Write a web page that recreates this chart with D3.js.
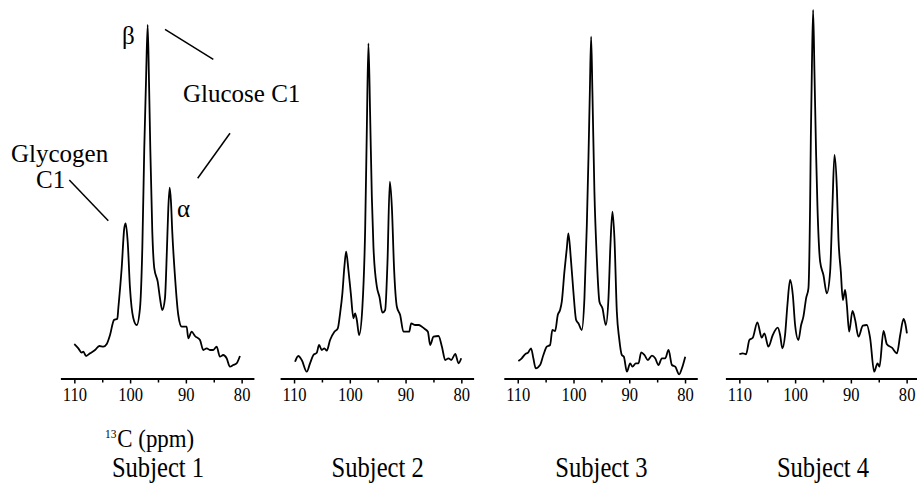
<!DOCTYPE html>
<meta charset="utf-8">
<script src="https://d3js.org/d3.v7.min.js"></script>
<style>
  svg text { font-family: "Liberation Serif", Tinos, "Times New Roman", Times, "Nimbus Roman", "Nimbus Roman No9 L", "Noto Serif", "DejaVu Serif", FreeSerif, serif; }
</style>
<body style="margin:0;background:#fff">
<div id="chart"></div>
<script>
// spectra as [ppm, intensity (a.u.)]
const subjects = ["Subject 1", "Subject 2", "Subject 3", "Subject 4"];
const majorTicks = [110, 100, 90, 80];
const minorTicks = [105, 95, 85];

const spectrum1 = [[110.0,36],[109.28,31.7],[108.67,27.3],[108.39,28.3],[107.9,24],[107.19,26.7],[106.29,30],[105.52,34],[104.8,33.3],[104.19,36],[103.6,45],[102.89,60],[102.29,61.3],[102.11,72],[101.51,112],[101.04,152],[100.79,156.7],[100.43,138],[100.02,92],[99.43,62],[98.82,55],[98.23,71.7],[97.81,131.7],[97.46,231.7],[97.15,298.3],[96.85,355],[96.61,298.3],[96.38,231.7],[96.02,148.3],[95.66,111.7],[95.05,98.3],[94.64,81.7],[94.23,70],[93.75,81.7],[93.39,131.7],[93.15,171.7],[92.9,192.3],[92.67,178.3],[92.44,148.3],[91.97,105],[91.36,65],[90.75,53.3],[89.86,53.3],[89.57,41.7],[88.96,48.3],[88.37,44],[87.47,40],[86.88,30],[86.27,31.7],[85.68,30],[85.09,30],[84.48,33.3],[83.89,23.3],[83.3,25],[82.69,21.7],[82.1,13.3],[81.5,15],[80.9,16.7],[80.3,24]];

const spectrum2 = [[109.82,18.3],[109.23,24],[108.62,20],[107.72,8.3],[107.13,16.7],[106.53,25],[105.92,27.3],[105.51,35],[105.03,30],[104.56,31.7],[104.13,29.3],[103.54,40],[102.76,48.3],[102.15,51.7],[101.74,66.7],[101.33,86.7],[100.97,113.3],[100.66,128.3],[100.25,110],[99.82,86.7],[99.35,61.7],[99.05,66.7],[98.74,60],[98.33,45],[97.74,73.3],[97.25,150],[96.95,250],[96.66,336.7],[96.36,266.7],[96.05,183.3],[95.76,133.3],[95.15,93.3],[94.69,83.3],[94.15,67.3],[93.66,70],[93.25,116.7],[92.82,198.3],[92.46,173.3],[92.05,110],[91.56,73.3],[90.97,65],[90.38,48.3],[89.77,48.3],[89.35,48.3],[88.99,56.7],[88.28,55],[87.68,55],[87.07,53.3],[86.48,50.7],[86.0,48.3],[85.58,35],[84.99,43.3],[84.09,44],[83.48,33.3],[82.89,20],[82.3,21.7],[81.81,20],[81.09,26],[80.5,16.7],[80.02,21.7]];

const spectrum3 = [[109.89,19],[109.28,21.7],[108.69,25.7],[108.1,27.7],[107.61,31.7],[107.2,21.7],[106.77,11.7],[106.0,15],[105.4,25],[104.79,33.3],[104.2,35],[103.79,50],[103.3,49],[102.82,65],[102.41,70],[102.1,78.3],[101.63,108.3],[101.2,131.7],[100.92,146.7],[100.48,121.7],[100.02,88.3],[99.53,60],[99.12,56.7],[98.51,50],[98.04,81.7],[97.61,155],[97.32,221.7],[97.07,288.3],[96.84,343.3],[96.61,288.3],[96.25,188.3],[95.82,121.7],[95.35,78.3],[94.81,71.7],[94.2,55],[93.73,81.7],[93.38,135],[93.02,168.3],[92.66,141.7],[92.23,68.3],[91.81,41.7],[91.33,25],[90.97,23.3],[90.43,8.3],[89.84,16.7],[89.43,13.3],[88.82,16.7],[88.35,16.7],[87.86,27.7],[87.27,25],[86.66,20],[85.94,24.3],[85.35,21.7],[84.76,15],[84.15,21.7],[83.56,21.7],[82.96,30],[82.35,15],[81.76,13.3],[81.05,5.7],[80.56,11.7],[79.96,23.3]];

const spectrum4 = [[110.0,25.7],[109.39,26.7],[108.8,25.7],[108.2,40],[107.59,42.3],[106.77,57.7],[105.98,42.3],[105.51,46.7],[104.79,33.3],[104.0,45],[103.11,52.3],[102.69,45],[102.28,31.7],[101.8,45],[101.38,75],[100.9,100],[100.41,85],[100.0,55],[99.41,40],[98.92,55],[98.51,63.3],[98.03,81.7],[97.61,91.7],[97.31,175],[97.18,241.7],[97.0,308.3],[96.77,370],[96.53,308.3],[96.23,225],[96.0,175],[95.51,118.3],[94.92,105],[94.31,86.7],[93.72,108.3],[93.3,175],[92.94,225],[92.51,191.7],[92.23,141.7],[91.8,108.3],[91.44,80],[91.03,90],[90.72,75],[90.31,48.3],[89.71,69],[89.23,60],[88.64,43.3],[87.85,54.3],[87.13,55],[86.54,41.7],[85.82,8.3],[85.22,16.7],[84.87,13.3],[84.15,49],[83.54,35.7],[82.64,32.3],[81.74,26.7],[81.15,45],[80.56,61],[80.25,56.7],[79.95,46.7]];

const spectra = [spectrum1, spectrum2, spectrum3, spectrum4];

// layout
const width = 917, height = 486;
const panelLeft = [60.4, 280.1, 503.8, 725.4];
const axisY = 379;

const svg = d3.select("#chart")
  .append("svg")
  .attr("width", width)
  .attr("height", height);

// each panel shares the same ppm scale (reversed, as usual for NMR)
const x = d3.scaleLinear().domain([112.5, 77.8]).range([0, 193.5]);
const y = d3.scaleLinear().domain([0, 370]).range([axisY + 1, 10]);

const line = d3.line()
  .x(d => x(d[0]))
  .y(d => y(d[1]))
  .curve(d3.curveMonotoneX);

spectra.forEach((data, i) => {
  const g = svg.append("g").attr("transform", `translate(${panelLeft[i]},0)`);

  // spectrum trace
  g.append("path")
    .datum(data)
    .attr("d", line)
    .attr("fill", "none")
    .attr("stroke", "#000")
    .attr("stroke-width", 1.8)
    .attr("stroke-linejoin", "round");

  // axis with major ticks
  const ax = g.append("g")
    .attr("transform", `translate(0,${axisY - 0.5})`)
    .call(d3.axisBottom(x).tickValues(majorTicks).tickSize(5).tickSizeOuter(0));
  ax.attr("font-family", null);
  ax.select(".domain").attr("stroke-width", 2);
  ax.selectAll(".tick line").attr("stroke-width", 1.5);
  ax.selectAll(".tick text")
    .attr("y", 23)
    .attr("dy", 0)
    .attr("fill", "#000")
    .attr("transform", "scale(0.92,1)")
    .style("font-size", "18px");

  // minor ticks
  g.selectAll(".minor")
    .data(minorTicks)
    .join("line")
    .attr("class", "minor")
    .attr("x1", d => x(d) + 0.5)
    .attr("x2", d => x(d) + 0.5)
    .attr("y1", axisY)
    .attr("y2", axisY + 3.5)
    .attr("stroke", "#000")
    .attr("stroke-width", 1.5);

  // subject label
  g.append("text")
    .attr("transform", `translate(${x(95)},477) scale(0.82,1)`)
    .attr("text-anchor", "middle")
    .style("font-size", "30px")
    .text(subjects[i]);
});

// axis title under first panel
const title = svg.append("text")
  .attr("transform", "translate(105,447) scale(0.88,1)")
  .style("font-size", "26px");
title.append("tspan").style("font-size", "13px").attr("dy", -9).text("13");
title.append("tspan").attr("dy", 9).attr("dx", 1).text("C (ppm)");

// annotations (panel 1)
const notes = svg.append("g").style("font-size", "25px");
notes.append("text").attr("x", 122).attr("y", 44).text("β");
notes.append("text").attr("x", 183).attr("y", 102).text("Glucose C1");
notes.append("text").attr("x", 11).attr("y", 162).text("Glycogen");
notes.append("text").attr("x", 36).attr("y", 188).text("C1");
notes.append("text").attr("x", 177).attr("y", 217).text("α");

const leaders = [
  [165, 29.3, 213.3, 59.3],
  [230, 133.3, 197.7, 178.3],
  [69.3, 180, 108.3, 220.7]
];
svg.append("g").selectAll("line")
  .data(leaders)
  .join("line")
  .attr("x1", d => d[0]).attr("y1", d => d[1])
  .attr("x2", d => d[2]).attr("y2", d => d[3])
  .attr("stroke", "#000")
  .attr("stroke-width", 1.5);
</script>
</body>
